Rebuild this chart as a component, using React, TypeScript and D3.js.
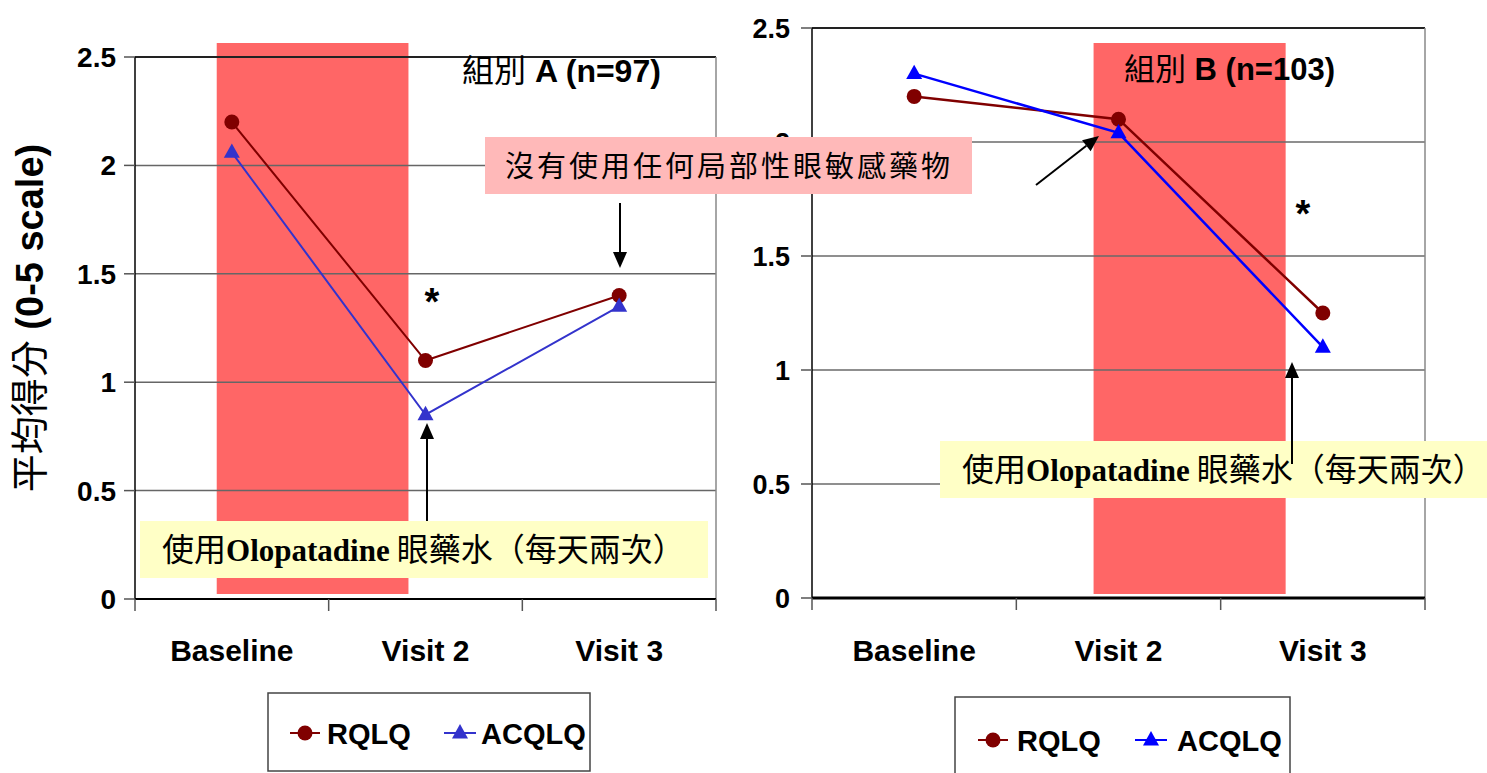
import React from "react";
import * as d3 from "d3";

const categories = ["Baseline", "Visit 2", "Visit 3"];
const yTicks = [0, 0.5, 1, 1.5, 2, 2.5];
const yTickLabels = ["0", "0.5", "1", "1.5", "2", "2.5"];
const seriesNames = ["RQLQ", "ACQLQ"];
const groupA_RQLQ = [2.2, 1.1, 1.4];
const groupA_ACQLQ = [2.06, 0.85, 1.35];
const groupB_RQLQ = [2.2, 2.1, 1.25];
const groupB_ACQLQ = [2.3, 2.04, 1.1];
const titleA = ["組別", " A (n=97)"];
const titleB = ["組別", " B (n=103)"];
const yTitle = ["平均得分", " (0-5 scale)"];
const noteNone = "沒有使用任何局部性眼敏感藥物";
const noteOlo = ["使用", "Olopatadine", " 眼藥水（每天兩次）"];

const SANS = "'Liberation Sans', Arial, sans-serif";
const CJK = "'Noto Sans CJK TC', 'Noto Sans CJK SC', sans-serif";
const SERIF = "'Liberation Serif', 'Times New Roman', serif";

const DARKRED = "#800000";

function triPath(cx: number, cy: number, s: number) {
  const h = s * 0.9;
  return `M${cx},${cy - h * 0.62} L${cx + s / 2},${cy + h * 0.38} L${cx - s / 2},${cy + h * 0.38} Z`;
}

function Arrow({ x1, y1, x2, y2 }: { x1: number; y1: number; x2: number; y2: number }) {
  const ang = Math.atan2(y2 - y1, x2 - x1);
  const L = 16, W = 7;
  const bx = x2 - L * Math.cos(ang), by = y2 - L * Math.sin(ang);
  const px = -Math.sin(ang) * W, py = Math.cos(ang) * W;
  return (
    <g>
      <line x1={x1} y1={y1} x2={bx} y2={by} stroke="#000" strokeWidth={2} />
      <path d={`M${x2},${y2} L${bx + px},${by + py} L${bx - px},${by - py} Z`} fill="#000" />
    </g>
  );
}

type PanelProps = {
  x0: number; x1: number; yTop: number; yBot: number;
  rq: number[]; ac: number[]; acColor: string; lineW: number;
  labelRight: number; rectFrom: number; rectTo: number; offFrom: number; offTo: number;
  rectTop: number; rectBot: number;
  gridColor: string; bottomW: number; labelSize: number;
};

function Panel(p: PanelProps) {
  const x = d3.scaleBand<string>().domain(categories).range([p.x0, p.x1]);
  const cx = (c: string) => (x(c) as number) + x.bandwidth() / 2;
  const y = d3.scaleLinear().domain([0, 2.5]).range([p.yBot, p.yTop]);
  const line = d3.line<number>().x((_, i) => cx(categories[i])).y((v) => y(v));
  const bw = x.bandwidth();
  const rx0 = cx(categories[p.rectFrom]) + p.offFrom * bw;
  const rx1 = cx(categories[p.rectTo]) + p.offTo * bw;
  return (
    <g>
      <rect x={rx0} y={p.rectTop} width={rx1 - rx0} height={p.rectBot - p.rectTop} fill="#ff6666" />
      {yTicks.map((t, i) =>
        t > 0 ? (
          <line key={"g" + i} x1={p.x0} x2={p.x1} y1={y(t)} y2={y(t)}
            stroke={t === 2.5 ? "#222" : p.gridColor} strokeWidth={t === 2.5 ? 2 : 1.5} />
        ) : null
      )}
      <line x1={p.x1} x2={p.x1} y1={y(2.5)} y2={y(0)} stroke="#888" strokeWidth={1.5} />
      <line x1={p.x0} x2={p.x0} y1={y(2.5)} y2={y(0)} stroke="#000" strokeWidth={1.5} />
      {yTicks.map((t, i) => (
        <g key={"t" + i}>
          <line x1={p.x0 - 11} x2={p.x0} y1={y(t)} y2={y(t)} stroke="#555" strokeWidth={1.5} />
          <text x={p.labelRight} y={y(t)} dy="0.36em" textAnchor="end" fontFamily={SANS}
            fontWeight="bold" fontSize={p.labelSize} fill="#000">{yTickLabels[i]}</text>
        </g>
      ))}
      <line x1={p.x0} x2={p.x1} y1={y(0)} y2={y(0)} stroke="#000" strokeWidth={p.bottomW} />
      {d3.range(categories.length + 1).map((i) => {
        const xx = p.x0 + i * bw;
        return <line key={"xt" + i} x1={xx} x2={xx} y1={y(0)} y2={y(0) + 12} stroke="#555" strokeWidth={1.5} />;
      })}
      {categories.map((c) => (
        <text key={c} x={cx(c)} y={661} textAnchor="middle" fontFamily={SANS} fontWeight="bold"
          fontSize={30} fill="#000">{c}</text>
      ))}
      <path d={line(p.rq) as string} fill="none" stroke={DARKRED} strokeWidth={p.lineW} />
      <path d={line(p.ac) as string} fill="none" stroke={p.acColor} strokeWidth={p.lineW} />
      {p.rq.map((v, i) => (
        <circle key={"c" + i} cx={cx(categories[i])} cy={y(v)} r={7.5} fill={DARKRED} />
      ))}
      {p.ac.map((v, i) => (
        <path key={"a" + i} d={triPath(cx(categories[i]), y(v), 16)} fill={p.acColor} />
      ))}
    </g>
  );
}

function Legend({ x, y, w, h, cy, m1, t1, m2, t2, acColor }: any) {
  return (
    <g>
      <rect x={x} y={y} width={w} height={h} fill="#fff" stroke="#444" strokeWidth={1.5} />
      <line x1={m1} x2={m1 + 30} y1={cy} y2={cy} stroke={DARKRED} strokeWidth={2} />
      <circle cx={m1 + 15} cy={cy} r={7.5} fill={DARKRED} />
      <text x={t1} y={cy + 11} fontFamily={SANS} fontWeight="bold" fontSize={29}>{seriesNames[0]}</text>
      <line x1={m2} x2={m2 + 32} y1={cy} y2={cy} stroke={acColor} strokeWidth={2} />
      <path d={triPath(m2 + 16, cy, 16)} fill={acColor} />
      <text x={t2} y={cy + 11} fontFamily={SANS} fontWeight="bold" fontSize={29}>{seriesNames[1]}</text>
    </g>
  );
}

function OloNote({ x, y, w, h, tx }: any) {
  return (
    <g>
      <rect x={x} y={y} width={w} height={h} fill="#ffffc6" />
      <text x={tx} y={y + h / 2 + 11} fontSize={32} fill="#000">
        <tspan fontFamily={CJK}>{noteOlo[0]}</tspan>
        <tspan fontFamily={SERIF} fontWeight="bold" fontSize={31}>{noteOlo[1]}</tspan>
        <tspan fontFamily={CJK}>{noteOlo[2]}</tspan>
      </text>
    </g>
  );
}

export default function App() {
  return (
    <svg width={1487} height={773} style={{ position: "absolute", left: 0, top: 0, background: "#fff" }}>
      <rect x={0} y={0} width={1487} height={773} fill="#fff" />
      <Panel x0={135} x1={716} yTop={57} yBot={599} rq={groupA_RQLQ} ac={groupA_ACQLQ}
        acColor="#3333cc" lineW={2} labelRight={116} rectFrom={0} rectTo={1} offFrom={-0.078} offTo={-0.088}
        rectTop={43} rectBot={594} gridColor="#666" bottomW={2} labelSize={28} />
      <Panel x0={812} x1={1425} yTop={28} yBot={598} rq={groupB_RQLQ} ac={groupB_ACQLQ}
        acColor="#0000ff" lineW={2.5} labelRight={790} rectFrom={1} rectTo={2} offFrom={-0.122} offTo={-0.182}
        rectTop={43} rectBot={594} gridColor="#6a6a6a" bottomW={3} labelSize={27} />

      <text x={462} y={82} fontSize={32} fill="#000">
        <tspan fontFamily={CJK}>{titleA[0]}</tspan>
        <tspan fontFamily={SANS} fontWeight="bold">{titleA[1]}</tspan>
      </text>
      <text x={1124} y={80} fontSize={31} fill="#000">
        <tspan fontFamily={CJK}>{titleB[0]}</tspan>
        <tspan fontFamily={SANS} fontWeight="bold">{titleB[1]}</tspan>
      </text>

      <text transform="translate(43,318) rotate(-90)" textAnchor="middle" fontSize={38} fill="#000">
        <tspan fontFamily={CJK}>{yTitle[0]}</tspan>
        <tspan fontFamily={SANS} fontWeight="bold">{yTitle[1]}</tspan>
      </text>

      <text x={432} y={315} textAnchor="middle" fontFamily={SANS} fontWeight="bold" fontSize={38}>*</text>
      <text x={1303} y={227} textAnchor="middle" fontFamily={SANS} fontWeight="bold" fontSize={38}>*</text>

      <rect x={485} y={137} width={487} height={57} fill="#ffb9b9" />
      <text x={505} y={177} fontFamily={CJK} fontSize={29} letterSpacing={3} fill="#000">{noteNone}</text>
      <Arrow x1={620} y1={203} x2={620} y2={268} />
      <Arrow x1={1036} y1={185} x2={1099} y2={136} />

      <OloNote x={140} y={521} w={568} h={57} tx={162} />
      <Arrow x1={427} y1={521} x2={427} y2={423} />
      <OloNote x={940} y={441} w={560} h={57} tx={962} />
      <Arrow x1={1292} y1={464} x2={1292} y2={362} />

      <Legend x={268} y={693} w={322} h={78} cy={733} m1={290} t1={327} m2={444} t2={481} acColor="#3333cc" />
      <Legend x={955} y={697} w={335} h={90} cy={740} m1={978} t1={1017} m2={1135} t2={1177} acColor="#0000ff" />
    </svg>
  );
}
